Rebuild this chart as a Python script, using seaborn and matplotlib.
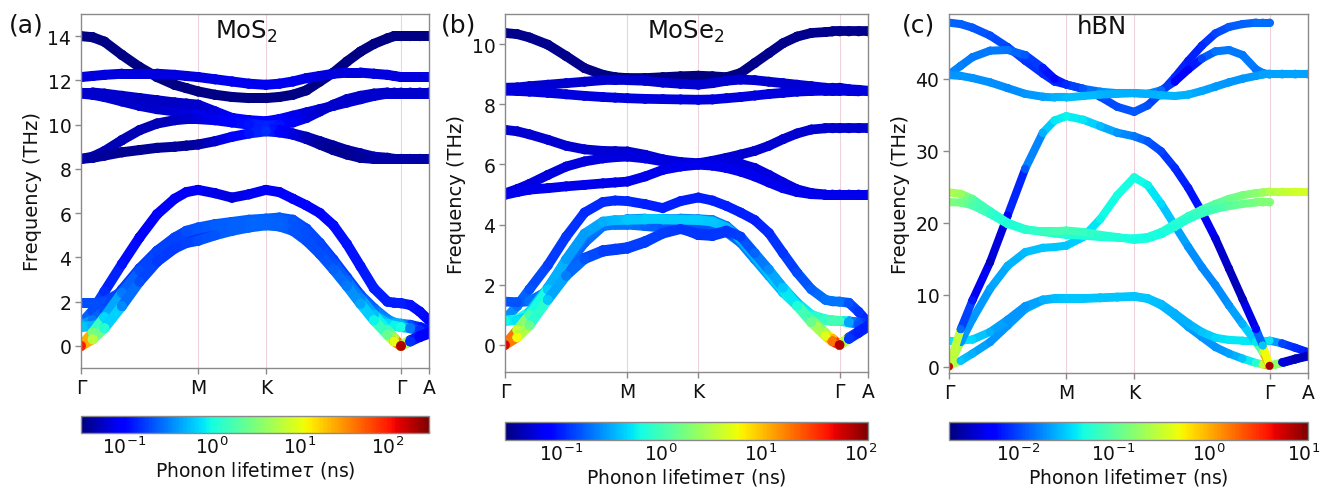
import numpy as np
import pandas as pd
import matplotlib
matplotlib.use("Agg")
import matplotlib.pyplot as plt
from matplotlib.collections import LineCollection
from matplotlib.colors import LogNorm
from matplotlib.cm import ScalarMappable
import seaborn as sns

# ---------------- k-path sampling (fraction along each segment) ----------------
FRAC_GM = [0.1, 0.2, 0.35, 0.5, 0.65, 0.8, 0.9, 1.0]
FRAC_MK = [0.25, 0.5, 0.75, 1.0]
FRAC_KG = [0.1, 0.2, 0.3, 0.4, 0.5, 0.6, 0.7, 0.8, 0.9, 0.95, 1.0]
FRAC_GA = [0.33, 0.67, 1.0]
NODE_LABELS = ["Γ", "M", "K", "Γ", "A"]
NODES_MOS2 = [0.0, 0.577, 0.911, 1.577, 1.715]
NODES_MOSE2 = [0.0, 0.577, 0.911, 1.577, 1.711]
NODES_HBN = [0.0, 0.577, 0.911, 1.577, 1.766]
nan = float("nan")

# ---------------- MoS2 (THz) ----------------
MOS2_U1 = [14.0, 13.95, 13.75, 13.15, 12.6, 12.15, 11.8, 11.65, 11.5, 11.35, 11.25, 11.2, 11.2,
           11.25, 11.35, 11.55, 11.95, 12.35, 12.85, 13.3, 13.65, 13.9, 14.0, 14.0, 14.0, 14.0, 14.0]
MOS2_U2 = [12.15, 12.2, 12.25, 12.3, 12.3, 12.3, 12.25, 12.2, 12.15, 12.05, 11.95, 11.85, 11.8,
           11.85, 11.95, 12.1, 12.2, 12.3, 12.35, 12.35, 12.3, 12.25, 12.2, 12.15, 12.15, 12.15, 12.15]
MOS2_U3 = [11.4, 11.35, 11.25, 11.05, 10.85, 10.7, 10.6, 10.55, 10.5, 10.4, 10.3, 10.2, 10.15,
           10.25, 10.4, 10.55, 10.7, 10.85, 11.0, 11.15, 11.3, 11.4, 11.4, 11.4, 11.4, 11.4, 11.4]
MOS2_U4 = [11.45, 11.45, 11.4, 11.3, 11.2, 11.1, 11.0, 10.95, 10.9, 10.6, 10.3, 10.05, 9.95,
           10.0, 10.1, 10.3, 10.6, 10.9, 11.15, 11.3, 11.4, 11.45, 11.45, 11.45, 11.45, 11.45, 11.45]
MOS2_U5 = [8.45, 8.55, 8.8, 9.3, 9.75, 10.05, 10.2, 10.25, 10.25, 10.2, 10.1, 10.0, 9.85,
           9.75, 9.6, 9.45, 9.25, 9.05, 8.85, 8.7, 8.55, 8.5, 8.45, 8.45, 8.45, 8.45, 8.45]
MOS2_U6 = [8.45, 8.5, 8.6, 8.75, 8.85, 8.95, 9.0, 9.05, 9.1, 9.25, 9.45, 9.6, 9.7,
           9.65, 9.55, 9.35, 9.1, 8.85, 8.65, 8.5, 8.45, 8.45, 8.45, 8.45, 8.45, 8.45, 8.45]
MOS2_L6 = [1.0, 1.6, 2.45, 3.7, 4.9, 5.95, 6.65, 6.95, 7.05, 6.9, 6.7, 6.85, 7.05,
           6.95, 6.65, 6.35, 6.0, 5.45, 4.6, 3.6, 2.6, 2.0, 1.95, 1.93, 1.85, 1.55, 1.15]
MOS2_L5 = [1.93, 1.93, 2.0, 2.45, 3.3, 4.1, 4.7, 5.0, 5.1, 5.35, 5.5, 5.6, 5.6,
           5.6, 5.45, 5.0, 4.4, 3.7, 3.0, 2.3, 1.7, 1.2, 1.05, 1.0, 0.95, 0.85, 0.7]
MOS2_L4 = [0.95, 1.15, 1.6, 2.55, 3.5, 4.3, 4.9, 5.2, 5.35, 5.5, 5.6, 5.7, 5.75,
           5.8, 5.7, 5.3, 4.65, 3.9, 3.1, 2.3, 1.6, 1.1, 1.0, 0.95, 0.9, 0.8, 0.65]
MOS2_L3 = [0.0, 0.6, 1.3, 2.4, 3.4, 4.25, 4.85, 5.15, 5.3, 5.45, 5.55, 5.6, 5.65,
           5.7, 5.6, 5.15, 4.5, 3.75, 2.95, 2.15, 1.4, 0.7, 0.35, 0.0, 0.25, 0.45, 0.6]
MOS2_L2 = [0.0, 0.3, 0.8, 1.8, 2.9, 3.8, 4.4, 4.65, 4.75, 5.0, 5.2, 5.35, 5.45,
           5.4, 5.2, 4.75, 4.15, 3.45, 2.7, 1.9, 1.15, 0.5, 0.2, 0.0, 0.2, 0.4, 0.55]
MOS2_L1 = [0.85, 0.9, 1.1, 1.95, 3.0, 3.9, 4.45, 4.7, 4.8, 5.05, 5.25, 5.4, 5.5,
           5.45, 5.25, 4.8, 4.2, 3.5, 2.8, 2.05, 1.4, 1.0, 0.9, 0.85, 0.8, 0.7, 0.6]
# lifetimes (ns)
MOS2_T_U1 = [0.034] * 27
MOS2_T_U2 = [0.07, 0.07, 0.07, 0.07, 0.07, 0.07, 0.07, 0.07, 0.07, 0.075, 0.08, 0.08, 0.08,
             0.08, 0.08, 0.075, 0.07, 0.07, 0.07, 0.07, 0.07, 0.07, 0.07, 0.07, 0.07, 0.07, 0.07]
MOS2_T_U3 = [0.065, 0.065, 0.06, 0.06, 0.06, 0.06, 0.065, 0.07, 0.08, 0.09, 0.1, 0.1, 0.1,
             0.09, 0.08, 0.07, 0.065, 0.065, 0.065, 0.065, 0.065, 0.065, 0.065, 0.065, 0.065, 0.065, 0.065]
MOS2_T_U4 = [0.06, 0.06, 0.06, 0.06, 0.055, 0.055, 0.055, 0.06, 0.06, 0.07, 0.09, 0.12, 0.14,
             0.12, 0.09, 0.07, 0.06, 0.06, 0.06, 0.06, 0.06, 0.06, 0.06, 0.06, 0.06, 0.06, 0.06]
MOS2_T_U5 = [0.05, 0.05, 0.05, 0.05, 0.05, 0.05, 0.055, 0.06, 0.07, 0.08, 0.1, 0.12, 0.14,
             0.1, 0.07, 0.05, 0.045, 0.042, 0.042, 0.045, 0.05, 0.05, 0.05, 0.05, 0.05, 0.05, 0.05]
MOS2_T_U6 = [0.045, 0.042, 0.04, 0.038, 0.038, 0.04, 0.04, 0.04, 0.045, 0.06, 0.09, 0.12, 0.15,
             0.1, 0.07, 0.05, 0.04, 0.038, 0.038, 0.04, 0.045, 0.045, 0.045, 0.045, 0.045, 0.045, 0.045]
MOS2_T_L6 = [0.3, 0.2, 0.15, 0.12, 0.1, 0.09, 0.085, 0.085, 0.085, 0.075, 0.07, 0.08, 0.085,
             0.085, 0.09, 0.095, 0.1, 0.11, 0.12, 0.12, 0.13, 0.13, 0.13, 0.13, 0.12, 0.11, 0.1]
MOS2_T_L5 = [0.2, 0.2, 0.2, 0.17, 0.14, 0.13, 0.13, 0.14, 0.15, 0.16, 0.17, 0.17, 0.17,
             0.16, 0.15, 0.14, 0.14, 0.14, 0.15, 0.18, 0.25, 0.35, 0.45, 0.5, 0.2, 0.14, 0.12]
MOS2_T_L4 = [0.5, 0.3, 0.2, 0.17, 0.16, 0.17, 0.18, 0.2, 0.21, 0.22, 0.23, 0.24, 0.24,
             0.23, 0.21, 0.19, 0.18, 0.17, 0.18, 0.2, 0.28, 0.4, 0.5, 0.5, 0.2, 0.12, 0.1]
MOS2_T_L3 = [200.0, 3.0, 0.7, 0.3, 0.2, 0.18, 0.18, 0.2, 0.22, 0.23, 0.24, 0.25, 0.25,
             0.24, 0.22, 0.2, 0.19, 0.2, 0.25, 0.35, 0.55, 1.5, 6.0, 250.0, 0.15, 0.1, 0.1]
MOS2_T_L2 = [100.0, 6.0, 1.2, 0.35, 0.2, 0.17, 0.17, 0.18, 0.2, 0.22, 0.24, 0.25, 0.25,
             0.24, 0.22, 0.2, 0.2, 0.24, 0.3, 0.45, 0.9, 2.5, 10.0, 200.0, 0.15, 0.1, 0.1]
MOS2_T_L1 = [0.6, 0.5, 0.35, 0.22, 0.16, 0.14, 0.14, 0.15, 0.16, 0.17, 0.18, 0.18, 0.18,
             0.17, 0.16, 0.15, 0.15, 0.17, 0.22, 0.3, 0.45, 0.7, 0.9, 1.0, 0.3, 0.15, 0.1]

# ---------------- MoSe2 (THz) ----------------
MOSE2_U1 = [10.37, 10.33, 10.22, 9.98, 9.6, 9.2, 8.98, 8.9, 8.87, 8.87, 8.9, 8.93, 8.95,
            8.93, 8.9, 9.04, 9.37, 9.7, 10.03, 10.25, 10.37, 10.4, 10.42, 10.42, 10.42, 10.42, 10.42]
MOSE2_U2 = [8.55, 8.56, 8.6, 8.65, 8.7, 8.75, 8.8, 8.8, 8.8, 8.78, 8.72, 8.68, 8.65,
            8.7, 8.78, 8.82, 8.8, 8.75, 8.7, 8.65, 8.6, 8.55, 8.55, 8.55, 8.5, 8.48, 8.45]
MOSE2_U3 = [8.45, 8.44, 8.42, 8.38, 8.33, 8.28, 8.24, 8.22, 8.2, 8.18, 8.17, 8.16, 8.15,
            8.16, 8.2, 8.24, 8.29, 8.34, 8.38, 8.42, 8.44, 8.45, 8.45, 8.45, 8.44, 8.43, 8.43]
MOSE2_M1 = [7.15, 7.1, 7.0, 6.82, 6.62, 6.5, 6.45, 6.44, 6.43, 6.32, 6.17, 6.08, 6.04,
            6.12, 6.22, 6.33, 6.45, 6.62, 6.84, 7.03, 7.16, 7.2, 7.2, 7.2, 7.2, 7.2, 7.2]
MOSE2_M2 = [5.04, 5.18, 5.35, 5.65, 5.93, 6.1, 6.2, 6.24, 6.26, 6.2, 6.1, 6.05, 6.02,
            6.06, 6.12, 6.02, 5.88, 5.65, 5.4, 5.17, 5.05, 5.0, 5.0, 5.0, 5.0, 5.0, 5.0]
MOSE2_M3 = [4.99, 5.08, 5.16, 5.21, 5.27, 5.32, 5.37, 5.4, 5.43, 5.6, 5.82, 5.93, 5.99,
            5.96, 5.88, 5.76, 5.6, 5.4, 5.21, 5.08, 5.01, 4.99, 4.99, 4.99, 4.99, 4.99, 4.99]
MOSE2_L6 = [0.85, 1.3, 1.85, 2.65, 3.6, 4.4, 4.75, 4.8, 4.78, 4.68, 4.55, 4.78, 4.9,
            4.8, 4.62, 4.4, 4.15, 3.72, 3.05, 2.4, 1.85, 1.5, 1.45, 1.44, 1.4, 1.1, 0.75]
MOSE2_L5 = [1.44, 1.42, 1.45, 1.8, 2.6, 3.4, 3.95, 4.1, 4.18, 4.2, 4.2, 4.2, 4.18,
            4.15, 3.95, 3.55, 3.0, 2.45, 1.9, 1.4, 1.0, 0.85, 0.82, 0.8, 0.78, 0.75, 0.7]
MOSE2_L4 = [0.0, 0.5, 1.0, 1.85, 2.85, 3.7, 4.1, 4.15, 4.16, 4.17, 4.17, 4.16, 4.15,
            4.1, 3.9, 3.5, 2.95, 2.38, 1.83, 1.3, 0.83, 0.4, 0.2, 0.0, 0.25, 0.45, 0.65]
MOSE2_L3 = [0.8, 0.85, 1.1, 1.9, 2.8, 3.6, 3.95, 4.0, 4.0, 3.95, 3.9, 3.9, 3.85,
            3.85, 3.75, 3.4, 2.85, 2.3, 1.75, 1.3, 0.95, 0.82, 0.8, 0.8, 0.78, 0.74, 0.7]
MOSE2_L2 = [0.0, 0.25, 0.65, 1.5, 2.3, 2.85, 3.1, 3.15, 3.2, 3.4, 3.7, 3.85, 3.7,
            3.68, 3.8, 3.6, 3.05, 2.5, 1.9, 1.3, 0.75, 0.3, 0.12, 0.0, 0.2, 0.4, 0.6]
MOSE2_L1 = [0.8, 0.82, 0.95, 1.55, 2.35, 2.9, 3.15, 3.2, 3.25, 3.45, 3.72, 3.88, 3.65,
            3.62, 3.75, 3.55, 3.0, 2.45, 1.9, 1.35, 0.95, 0.82, 0.8, 0.8, 0.75, 0.7, 0.65]
MOSE2_T_U1 = [0.03, 0.03, 0.03, 0.03, 0.03, 0.03, 0.028, 0.028, 0.028, 0.027, 0.027, 0.027, 0.027,
              0.027, 0.027, 0.028, 0.03, 0.03, 0.03, 0.03, 0.03, 0.03, 0.03, 0.03, 0.03, 0.03, 0.03]
MOSE2_T_U2 = [0.05] * 27
MOSE2_T_U3 = [0.055] * 27
MOSE2_T_M1 = [0.05] * 27
MOSE2_T_M2 = [0.055] * 27
MOSE2_T_M3 = [0.06] * 27
MOSE2_T_L6 = [0.3, 0.2, 0.15, 0.13, 0.12, 0.11, 0.11, 0.11, 0.11, 0.1, 0.1, 0.1, 0.1,
              0.1, 0.1, 0.1, 0.1, 0.11, 0.12, 0.14, 0.17, 0.2, 0.2, 0.2, 0.15, 0.12, 0.1]
MOSE2_T_L5 = [0.15, 0.15, 0.2, 0.2, 0.18, 0.18, 0.2, 0.22, 0.25, 0.25, 0.25, 0.25, 0.25,
              0.22, 0.2, 0.2, 0.22, 0.25, 0.3, 0.4, 0.6, 0.8, 0.9, 1.0, 0.3, 0.15, 0.12]
MOSE2_T_L4 = [100.0, 4.0, 1.0, 0.4, 0.28, 0.28, 0.32, 0.36, 0.4, 0.42, 0.42, 0.42, 0.42,
              0.4, 0.36, 0.33, 0.33, 0.38, 0.5, 0.7, 1.2, 3.0, 10.0, 100.0, 0.15, 0.1, 0.1]
MOSE2_T_L3 = [1.0, 0.8, 0.5, 0.3, 0.22, 0.2, 0.2, 0.2, 0.2, 0.18, 0.16, 0.15, 0.15,
              0.16, 0.18, 0.2, 0.25, 0.3, 0.4, 0.6, 0.9, 1.2, 1.5, 1.5, 0.3, 0.15, 0.1]
MOSE2_T_L2 = [60.0, 6.0, 1.5, 0.4, 0.22, 0.15, 0.13, 0.13, 0.13, 0.13, 0.13, 0.12, 0.12,
              0.12, 0.12, 0.13, 0.18, 0.25, 0.4, 0.7, 1.5, 5.0, 20.0, 80.0, 0.12, 0.1, 0.1]
MOSE2_T_L1 = [0.6, 0.5, 0.4, 0.25, 0.18, 0.15, 0.13, 0.13, 0.13, 0.13, 0.13, 0.12, 0.12,
              0.12, 0.12, 0.13, 0.16, 0.22, 0.3, 0.45, 0.7, 0.9, 1.0, 1.0, 0.3, 0.15, 0.1]

# ---------------- hBN (THz) ----------------
HBN_T1 = [47.8, 47.6, 47.1, 46.0, 44.4, 42.5, 40.7, 39.6, 39.2, 38.6, 37.5, 36.1, 35.4,
          36.3, 38.1, 40.2, 42.5, 44.6, 46.3, 47.2, 47.6, 47.8, 47.8, 47.8, nan, nan, nan]
HBN_T2 = [40.6, 41.8, 43.0, 43.9, 44.0, 43.3, 41.5, 40.0, 39.2, 38.6, 38.2, 38.0, 38.0,
          37.9, 38.4, 39.6, 41.3, 42.8, 43.8, 44.0, 43.3, 41.3, 40.8, 40.6, 40.6, 40.6, 40.6]
HBN_T3 = [40.5, 40.4, 40.1, 39.5, 38.7, 37.9, 37.5, 37.4, 37.4, 37.6, 37.8, 37.9, 38.0,
          37.9, 37.7, 37.6, 37.8, 38.3, 38.9, 39.5, 40.0, 40.4, 40.6, 40.7, 40.7, 40.7, 40.7]
HBN_ZO1 = [24.2, 24.0, 23.3, 21.6, 20.0, 19.1, 18.7, 18.5, 18.3, 18.2, 18.0, 17.9, 17.8,
           18.0, 18.7, 19.8, 20.9, 21.8, 22.6, 23.3, 23.8, 24.1, 24.2, 24.3, 24.3, 24.3, 24.3]
HBN_ZO2 = [22.85, 22.8, 22.4, 21.2, 19.8, 19.0, 18.8, 18.8, 18.9, 18.7, 18.3, 18.0, 17.6,
           17.8, 18.4, 19.4, 20.5, 21.3, 21.9, 22.3, 22.6, 22.8, 22.8, 22.8, nan, nan, nan]
HBN_LA = [0.0, 5.2, 9.2, 14.5, 21.0, 27.5, 32.5, 34.2, 34.8, 34.3, 33.4, 32.5, 32.0,
          31.3, 29.9, 27.6, 24.8, 21.5, 17.8, 13.6, 9.4, 5.2, 2.9, 0.1, 0.6, 1.1, 1.5]
HBN_TA = [0.1, 3.4, 6.6, 10.8, 14.0, 15.9, 16.5, 16.6, 16.8, 18.0, 20.5, 23.8, 26.3,
          25.2, 22.6, 19.6, 16.6, 13.8, 11.3, 8.5, 5.9, 3.4, 2.0, 0.1, 0.5, 1.0, 1.5]
HBN_ZA = [0.1, 0.8, 1.8, 3.4, 5.7, 8.0, 9.2, 9.4, 9.4, 9.4, 9.5, 9.6, 9.7,
          9.4, 8.5, 7.1, 5.5, 4.1, 2.7, 1.8, 1.1, 0.5, 0.3, 0.1, 0.5, 1.0, 1.4]
HBN_SH = [3.6, 3.6, 3.75, 4.8, 6.5, 8.4, 9.3, 9.5, 9.5, 9.5, 9.6, 9.7, 9.8,
          9.5, 8.7, 7.4, 6.0, 4.8, 4.0, 3.7, 3.6, 3.6, 3.6, 3.6, 3.2, 2.6, 2.0]
HBN_TAU_T1 = [0.013, 0.013, 0.012, 0.011, 0.01, 0.009, 0.008, 0.008, 0.008, 0.009, 0.01, 0.011, 0.012,
              0.011, 0.009, 0.008, 0.007, 0.008, 0.01, 0.012, 0.013, 0.014, 0.014, 0.014, nan, nan, nan]
HBN_TAU_T2 = [0.018, 0.017, 0.016, 0.016, 0.015, 0.012, 0.007, 0.006, 0.008, 0.012, 0.018, 0.022, 0.024,
              0.02, 0.014, 0.006, 0.005, 0.01, 0.015, 0.016, 0.016, 0.015, 0.016, 0.018, 0.02, 0.02, 0.02]
HBN_TAU_T3 = [0.02, 0.02, 0.02, 0.019, 0.018, 0.02, 0.022, 0.025, 0.028, 0.028, 0.026, 0.025, 0.025,
              0.025, 0.026, 0.026, 0.025, 0.023, 0.021, 0.02, 0.02, 0.021, 0.022, 0.022, 0.022, 0.022, 0.022]
HBN_TAU_ZO1 = [0.25, 0.2, 0.1, 0.065, 0.055, 0.05, 0.05, 0.055, 0.055, 0.055, 0.055, 0.05, 0.05,
               0.05, 0.055, 0.06, 0.07, 0.08, 0.1, 0.12, 0.14, 0.17, 0.2, 0.25, 0.3, 0.35, 0.35]
HBN_TAU_ZO2 = [0.15, 0.13, 0.09, 0.065, 0.055, 0.06, 0.07, 0.08, 0.08, 0.07, 0.06, 0.055, 0.05,
               0.05, 0.05, 0.055, 0.06, 0.07, 0.08, 0.1, 0.12, 0.14, 0.15, 0.15, nan, nan, nan]
HBN_TAU_LA = [6.0, 0.014, 0.007, 0.003, 0.005, 0.012, 0.025, 0.04, 0.045, 0.04, 0.028, 0.02, 0.016,
              0.012, 0.01, 0.008, 0.007, 0.006, 0.004, 0.003, 0.003, 0.006, 0.03, 8.0, 0.004, 0.003, 0.003]
HBN_TAU_TA = [3.0, 0.02, 0.02, 0.022, 0.025, 0.028, 0.03, 0.03, 0.03, 0.035, 0.045, 0.05, 0.05,
              0.045, 0.035, 0.025, 0.02, 0.018, 0.018, 0.02, 0.025, 0.04, 0.2, 6.0, 0.005, 0.004, 0.004]
HBN_TAU_ZA = [2.0, 0.03, 0.025, 0.02, 0.02, 0.022, 0.025, 0.028, 0.03, 0.03, 0.03, 0.03, 0.03,
              0.03, 0.028, 0.025, 0.022, 0.02, 0.02, 0.022, 0.03, 0.06, 0.3, 4.0, 0.006, 0.005, 0.004]
HBN_TAU_SH = [0.04, 0.04, 0.035, 0.025, 0.02, 0.02, 0.025, 0.028, 0.03, 0.03, 0.03, 0.03, 0.03,
              0.03, 0.028, 0.025, 0.025, 0.03, 0.035, 0.04, 0.04, 0.04, 0.04, 0.04, 0.01, 0.008, 0.007]

# colour scale limits (ns)
NORM_MOS2 = (0.032, 300.0)
NORM_MOSE2 = (0.027, 120.0)
NORM_HBN = (0.0019, 11.0)


def kpath(nodes):
    ks = [nodes[0]]
    for (a, b), fr in zip(zip(nodes[:-1], nodes[1:]), [FRAC_GM, FRAC_MK, FRAC_KG, FRAC_GA]):
        ks += [a + f * (b - a) for f in fr]
    return np.array(ks)


sns.set_theme(style="ticks")
plt.rcParams["font.family"] = ["DejaVu Sans"]
plt.rcParams["axes.edgecolor"] = "#8a8a8a"
plt.rcParams["xtick.color"] = "#8a8a8a"
plt.rcParams["ytick.color"] = "#8a8a8a"
plt.rcParams["xtick.labelcolor"] = "#111111"
plt.rcParams["ytick.labelcolor"] = "#111111"
plt.rcParams["axes.linewidth"] = 1.0

cmap = matplotlib.colormaps["jet"]
fig = plt.figure(figsize=(13.23, 4.89), dpi=100)


def draw_panel(rect, cbrect, nodes, bands, taus, lims, ylim, yticks, title, title_x, title_y,
               tag, tag_x, lw):
    ax = fig.add_axes(rect)
    norm = LogNorm(vmin=lims[0], vmax=lims[1])
    k = kpath(nodes)
    for x in nodes[1:4]:
        ax.axvline(x, color="#f0d2da", lw=0.8, zorder=0)
    for z, (freq, tau) in enumerate(zip(bands, taus)):
        f = np.array(freq, float)
        t = np.array(tau, float)
        pts = np.column_stack([k, f])
        segs, cols = [], []
        for i in range(len(k) - 1):
            if np.isnan(f[i]) or np.isnan(f[i + 1]):
                continue
            segs.append(pts[i:i + 2])
            cols.append(cmap(norm(np.sqrt(t[i] * t[i + 1]))))
        zo = 2 + z * 0.01
        ax.add_collection(LineCollection(segs, colors=cols, linewidths=lw,
                                         capstyle="round", joinstyle="round", zorder=zo))
        ok = ~np.isnan(f)
        df = pd.DataFrame({"k": k[ok], "freq": f[ok], "tau": t[ok]})
        sns.scatterplot(data=df, x="k", y="freq", hue="tau", hue_norm=norm, palette=cmap,
                        s=lw ** 2, linewidth=0, legend=False, ax=ax, zorder=zo + 0.005)
    ax.set_xlim(nodes[0], nodes[-1])
    ax.set_ylim(*ylim)
    ax.set_xticks(nodes)
    ax.set_xticklabels(NODE_LABELS)
    ax.set_yticks(yticks)
    ax.set_xlabel("")
    ax.set_ylabel("Frequency (THz)", fontsize=14, color="#111111", labelpad=4)
    ax.tick_params(labelsize=13.5, length=4, width=1, pad=3)
    ax.text(title_x, title_y, title, transform=ax.transAxes, ha="center", va="top",
            fontsize=17.5, color="#111111")
    fig.text(tag_x, 0.948, tag, fontsize=18, va="center", ha="left", color="#111111")
    cax = fig.add_axes(cbrect)
    cb = fig.colorbar(ScalarMappable(norm=norm, cmap=cmap), cax=cax, orientation="horizontal")
    cb.set_label("Phonon lifetime$\\tau$ (ns)", fontsize=13.5, color="#111111", labelpad=1)
    cb.ax.tick_params(which="major", labelsize=13.5, color="#555555", direction="in",
                      length=4, pad=2)
    cb.ax.tick_params(which="minor", color="#777777", direction="in", length=2)
    cb.outline.set_edgecolor("#8a8a8a")
    return ax


draw_panel([81 / 1323, 120 / 489, 348 / 1323, 354 / 489],
           [81 / 1323, 55 / 489, 348 / 1323, 17 / 489],
           NODES_MOS2,
           [MOS2_U1, MOS2_U2, MOS2_U3, MOS2_U4, MOS2_U5, MOS2_U6,
            MOS2_L6, MOS2_L5, MOS2_L4, MOS2_L1, MOS2_L3, MOS2_L2],
           [MOS2_T_U1, MOS2_T_U2, MOS2_T_U3, MOS2_T_U4, MOS2_T_U5, MOS2_T_U6,
            MOS2_T_L6, MOS2_T_L5, MOS2_T_L4, MOS2_T_L1, MOS2_T_L3, MOS2_T_L2],
           NORM_MOS2, (-1, 15), [0, 2, 4, 6, 8, 10, 12, 14], "MoS$_2$", 0.474, 0.99,
           "(a)", 0.007, 7.2)

draw_panel([505 / 1323, 116 / 489, 363 / 1323, 358 / 489],
           [505 / 1323, 48 / 489, 363 / 1323, 18 / 489],
           NODES_MOSE2,
           [MOSE2_U1, MOSE2_U2, MOSE2_U3, MOSE2_M1, MOSE2_M2, MOSE2_M3,
            MOSE2_L6, MOSE2_L5, MOSE2_L3, MOSE2_L1, MOSE2_L4, MOSE2_L2],
           [MOSE2_T_U1, MOSE2_T_U2, MOSE2_T_U3, MOSE2_T_M1, MOSE2_T_M2, MOSE2_T_M3,
            MOSE2_T_L6, MOSE2_T_L5, MOSE2_T_L3, MOSE2_T_L1, MOSE2_T_L4, MOSE2_T_L2],
           NORM_MOSE2, (-0.9, 11), [0, 2, 4, 6, 8, 10], "MoSe$_2$", 0.498, 0.99,
           "(b)", 0.333, 7.0)

draw_panel([949 / 1323, 115 / 489, 359 / 1323, 359 / 489],
           [949 / 1323, 48 / 489, 359 / 1323, 18 / 489],
           NODES_HBN,
           [HBN_T1, HBN_T2, HBN_T3, HBN_ZA, HBN_SH, HBN_TA, HBN_LA, HBN_ZO1, HBN_ZO2],
           [HBN_TAU_T1, HBN_TAU_T2, HBN_TAU_T3, HBN_TAU_ZA, HBN_TAU_SH, HBN_TAU_TA,
            HBN_TAU_LA, HBN_TAU_ZO1, HBN_TAU_ZO2],
           NORM_HBN, (-0.9, 49), [0, 10, 20, 30, 40], "hBN", 0.425, 1.0,
           "(c)", 0.682, 5.8)

fig.savefig("out.png", dpi=100)
